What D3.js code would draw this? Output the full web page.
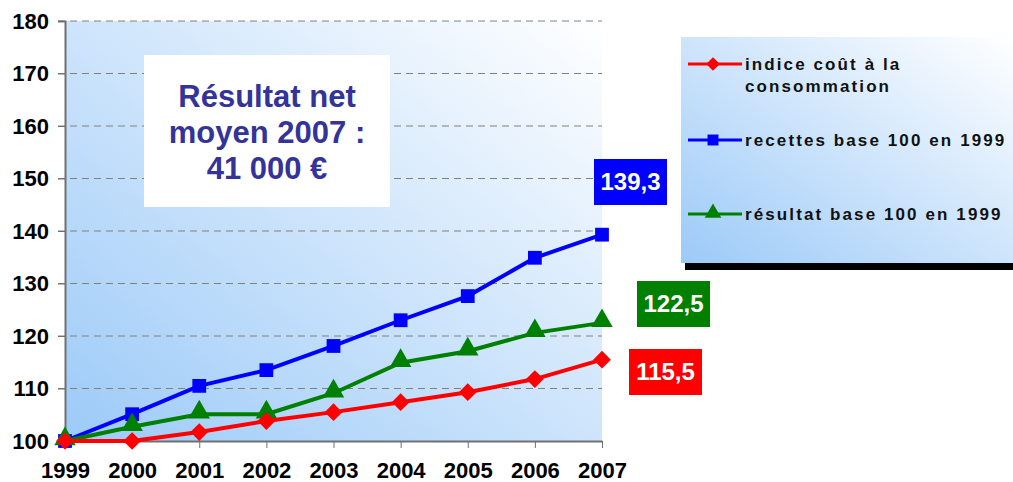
<!DOCTYPE html>
<html>
<head>
<meta charset="utf-8">
<script src="https://cdn.jsdelivr.net/npm/d3@7"></script>
<style>
  body { margin: 0; background: #fff; }
  svg { display: block; font-family: "Liberation Sans", Arial, sans-serif; }
</style>
</head>
<body>
<svg id="chart" width="1013" height="482"></svg>
<script>
// data
var years = [1999, 2000, 2001, 2002, 2003, 2004, 2005, 2006, 2007];
var indice = [100, 100, 101.7, 103.8, 105.5, 107.4, 109.3, 111.8, 115.5];
var recettes = [100, 105.1, 110.5, 113.5, 118.1, 123, 127.6, 134.9, 139.3];
var resultat = [100, 102.7, 105.1, 105.1, 109.1, 114.9, 117.1, 120.6, 122.5];
var yTicks = [100, 110, 120, 130, 140, 150, 160, 170, 180];
var seriesNames = ["indice coût à la consommation", "recettes base 100 en 1999", "résultat base 100 en 1999"];
var endLabels = ["115,5", "139,3", "122,5"];
var noteLines = ["Résultat net", "moyen 2007 :", "41 000 €"];

var svg = d3.select("#chart");

var x = d3.scaleLinear().domain([1999, 2007]).range([65, 602]);
var y = d3.scaleLinear().domain([100, 180]).range([441, 21]);

var defs = svg.append("defs");
var grad = defs.append("linearGradient").attr("id", "bg")
    .attr("x1", "0").attr("y1", "1").attr("x2", "1").attr("y2", "0");
grad.append("stop").attr("offset", "0").attr("stop-color", "#9ccaf8");
grad.append("stop").attr("offset", "1").attr("stop-color", "#ffffff");

// plot background
svg.append("rect")
    .attr("x", x(1999)).attr("y", y(180))
    .attr("width", x(2007) - x(1999)).attr("height", y(100) - y(180))
    .attr("fill", "url(#bg)");

// gridlines
svg.append("g").selectAll("line").data(yTicks.slice(1)).enter().append("line")
    .attr("x1", x(1999) - 7).attr("x2", x(2007))
    .attr("y1", function(d){ return y(d); }).attr("y2", function(d){ return y(d); })
    .attr("stroke", "#808080").attr("stroke-width", 1).attr("stroke-dasharray", "7,5");

// y axis
var yAxis = svg.append("g").attr("transform", "translate(" + x(1999) + ",0)")
    .call(d3.axisLeft(y).tickValues(yTicks).tickSize(7).tickPadding(9).tickFormat(d3.format("d")));
yAxis.select(".domain").attr("stroke", "#707070").attr("stroke-width", 2);
yAxis.selectAll(".tick line").attr("stroke", "#707070");
yAxis.selectAll("text").attr("font-size", 22).attr("font-weight", "bold").attr("fill", "#000");

// x axis
var xAxis = svg.append("g").attr("transform", "translate(0," + y(100) + ")")
    .call(d3.axisBottom(x).tickValues(years).tickSize(7).tickPadding(14).tickSizeOuter(0).tickFormat(d3.format("d")));
xAxis.select(".domain").attr("stroke", "#707070").attr("stroke-width", 2);
xAxis.selectAll(".tick line").attr("stroke", "#707070");
xAxis.selectAll("text").attr("font-size", 22).attr("font-weight", "bold").attr("fill", "#000");

var series = [
  { name: seriesNames[0], values: indice, color: "#ff0000", marker: d3.symbolDiamond2, label: endLabels[0] },
  { name: seriesNames[1], values: recettes, color: "#0000ff", marker: d3.symbolSquare, label: endLabels[1] },
  { name: seriesNames[2], values: resultat, color: "#008000", marker: d3.symbolTriangle, label: endLabels[2] }
];

var line = d3.line()
    .x(function(d, i){ return x(years[i]); })
    .y(function(d){ return y(d); });

// blue first, then green, red on top
var drawOrder = [series[1], series[2], series[0]];
drawOrder.forEach(function(s){
  var g = svg.append("g");
  g.append("path").datum(s.values)
      .attr("d", line).attr("fill", "none")
      .attr("stroke", s.color).attr("stroke-width", 4);
  g.selectAll("path.m").data(s.values).enter().append("path")
      .attr("class", "m")
      .attr("d", d3.symbol().type(s.marker).size(s.marker == d3.symbolSquare ? 190 : 200)())
      .attr("transform", function(d, i){
          var dy = s.marker == d3.symbolTriangle ? -2 : 0;
          return "translate(" + x(years[i]) + "," + (y(d) + dy) + ")";
      })
      .attr("fill", s.color);
});

// note box
var note = svg.append("g");
note.append("rect").attr("x", 144).attr("y", 55).attr("width", 246).attr("height", 152).attr("fill", "#fff");
note.selectAll("text").data(noteLines).enter().append("text")
    .attr("x", 267).attr("y", function(d, i){ return 107 + i * 36; })
    .attr("text-anchor", "middle").attr("font-size", 31).attr("font-weight", "bold")
    .attr("fill", "#333399").text(function(d){ return d; });

// legend
var legend = svg.append("g");
legend.append("rect").attr("x", 685).attr("y", 263).attr("width", 328).attr("height", 7).attr("fill", "#000");
legend.append("rect").attr("x", 681).attr("y", 37).attr("width", 332).attr("height", 226).attr("fill", "url(#bg)");
var legRows = [64, 140, 214];
series.forEach(function(s, i){
  var ly = legRows[i];
  legend.append("line").attr("x1", 688).attr("x2", 742).attr("y1", ly).attr("y2", ly)
      .attr("stroke", s.color).attr("stroke-width", 3);
  legend.append("path").attr("d", d3.symbol().type(s.marker).size(120)())
      .attr("transform", "translate(713," + (s.marker == d3.symbolTriangle ? ly - 1 : ly) + ")")
      .attr("fill", s.color);
  var t = legend.append("text").attr("x", 745).attr("y", ly + 6)
      .attr("font-size", 17).attr("font-weight", "bold").attr("letter-spacing", "2.1px").attr("fill", "#111");
  if (i == 0) {
    t.append("tspan").attr("x", 745).text("indice coût à la");
    t.append("tspan").attr("x", 745).attr("dy", 22).text("consommation");
  } else {
    t.text(s.name);
  }
});

// end value labels
var labelBoxes = [
  { x: 629, y: 349 },
  { x: 594, y: 159 },
  { x: 637, y: 281 }
];
series.forEach(function(s, i){
  var b = labelBoxes[i];
  svg.append("rect").attr("x", b.x).attr("y", b.y).attr("width", 73).attr("height", 46).attr("fill", s.color);
  svg.append("text").attr("x", b.x + 36.5).attr("y", b.y + 31)
      .attr("text-anchor", "middle").attr("font-size", 24).attr("font-weight", "bold")
      .attr("fill", "#fff").text(s.label);
});
</script>
</body>
</html>
